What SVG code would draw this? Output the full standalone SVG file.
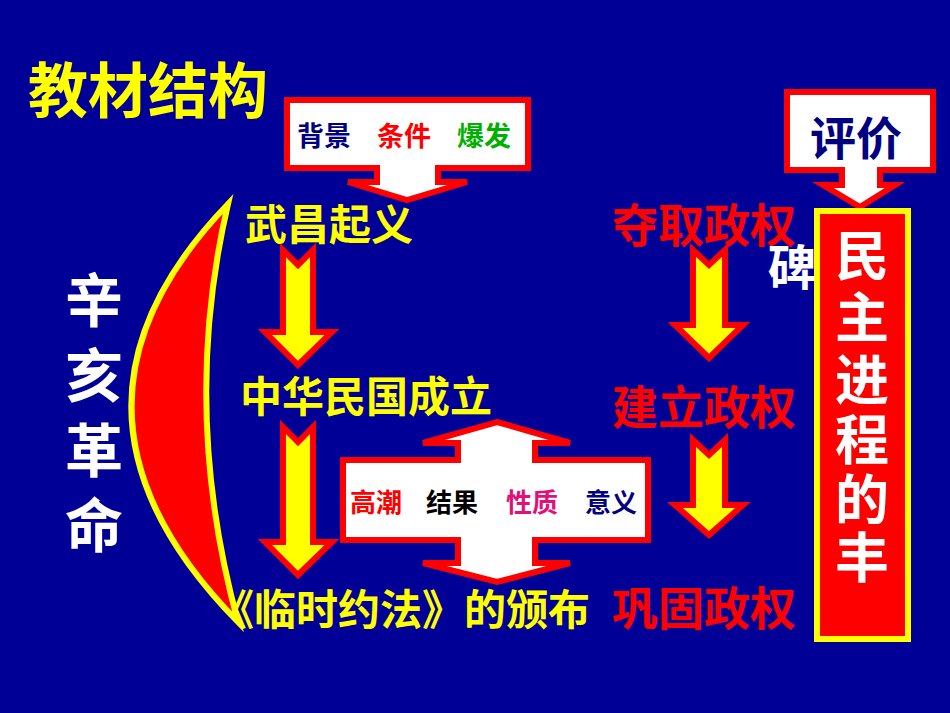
<svg xmlns="http://www.w3.org/2000/svg" width="950" height="713" viewBox="0 0 950 713">
<style>
text{font-family:"Noto Sans CJK SC","Liberation Sans",sans-serif;font-weight:bold}
.ar{fill:#ffff00;stroke:#ff0000;stroke-width:6;stroke-linejoin:miter}
.call{fill:#fff;stroke:#ff0000;stroke-width:6}
.y{fill:#ffff00;font-size:42px}
.r{fill:#ff0000;font-size:46px}
</style>
<rect width="950" height="713" fill="#000096"/>
<text x="28" y="113" fill="#ffff00" font-size="60">教材结构</text>
<g id="xinhai" fill="#fff" font-size="58"><text x="65" y="322">辛</text><text x="65" y="397">亥</text><text x="65" y="472">革</text><text x="65" y="547">命</text></g>
<g id="brace"><path d="M228,204 Q30,410 238,622 Q180,410 228,204 Z" fill="#ff0000" stroke="#ffff00" stroke-width="6"/></g>
<g id="top-callout"><path class="call" d="M287,100 H528 V168 H438 V182 H467 L407,200 L348,182 H377 V168 H287 Z"/>
<text x="297" y="146" font-size="27" fill="#000080">背景</text><text x="377" y="146" font-size="27" fill="#ff0000">条件</text><text x="457" y="146" font-size="27" fill="#00b000">爆发</text></g>
<g id="connectors">
<path class="ar" d="M283,250 L298,265 L313,250 V332 H332 L298,365 L265,332 H283 Z"/>
<path class="ar" d="M283,427 L298,442 L313,427 V542 H332 L298,575 L265,542 H283 Z"/>
<path class="ar" d="M693,250 L709,265 L725,250 V325 H743 L709,358 L675,325 H693 Z"/>
<path class="ar" d="M693,440 L709,455 L725,440 V505 H743 L709,535 L675,505 H693 Z"/>
</g>
<g id="wuchang"><text class="y" x="245" y="240">武昌起义</text></g>
<g id="zhonghua"><text class="y" x="240" y="412">中华民国成立</text></g>
<g id="yuefa"><text class="y" x="212" y="625">《临时约法》的颁布</text></g>
<g id="cross"><path class="call" d="M497,422 L570,443 H535 V460 H648 V540 H535 V563 H570 L497,582 L423,563 H458 V540 H343 V460 H458 V443 H423 Z"/>
<text x="350" y="512" font-size="26" fill="#ff0000">高潮</text><text x="426" y="512" font-size="26" fill="#000">结果</text><text x="506" y="512" font-size="26" fill="#e0127a">性质</text><text x="585" y="512" font-size="26" fill="#000080">意义</text></g>
<g id="duoqu"><text class="r" x="612" y="242">夺取政权</text></g>
<g id="jianli"><text class="r" x="612" y="424">建立政权</text></g>
<g id="gonggu"><text class="r" x="612" y="625">巩固政权</text></g>
<g id="pingjia"><path class="call" d="M787,92 H933 V170 H880 V185 H895 L860,207 L823,185 H842 V170 H787 Z"/>
<text x="810" y="155" font-size="46" fill="#000080">评价</text></g>
<g id="column"><rect x="817" y="211" width="91" height="428" fill="#ff0000" stroke="#ffff00" stroke-width="6"/>
<g fill="#fff" font-size="54" font-weight="normal"><text x="835" y="276">民</text><text x="835" y="338">主</text><text x="835" y="400">进</text><text x="835" y="460">程</text><text x="835" y="520">的</text><text x="835" y="578">丰</text></g>
<text x="768" y="285" font-size="48" fill="#fff">碑</text></g>
</svg>
